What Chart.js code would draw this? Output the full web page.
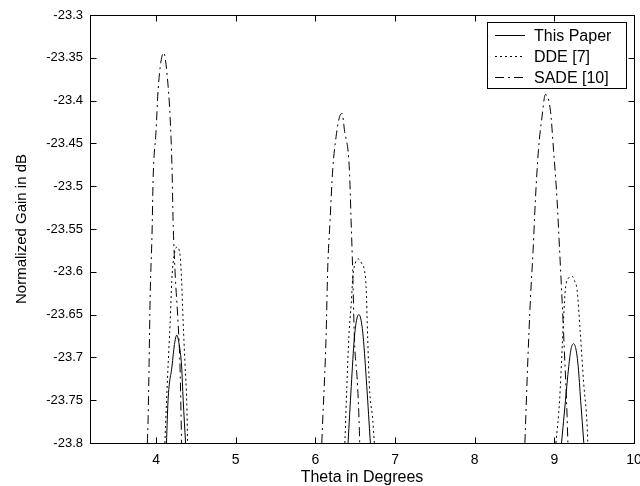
<!DOCTYPE html>
<html>
<head>
<meta charset="utf-8">
<script src="https://cdn.jsdelivr.net/npm/chart.js@4"></script>
<style>
  html, body { margin: 0; padding: 0; background: #fff; }
  #wrap { width: 640px; height: 486px; position: relative; }
</style>
</head>
<body>
<div id="wrap"><canvas id="gainChart"></canvas></div>
<script>
// Series names, as shown in the legend
const seriesNames = ['This Paper', 'DDE [7]', 'SADE [10]'];

// Axis ticks
const thetaTicks = [4, 5, 6, 7, 8, 9, 10];
const gainTicks = [-23.3, -23.35, -23.4, -23.45, -23.5, -23.55, -23.6, -23.65, -23.7, -23.75, -23.8];

// This Paper (null gain = below the plotted range)
const thisPaperTheta = [4.13, 4.15, 4.20, 4.23, 4.26, 4.29, 4.32, 4.34, 4.37, 5.3,
  6.41, 6.45, 6.49, 6.52, 6.545, 6.57, 6.60, 6.645, 6.69, 7.8,
  9.09, 9.14, 9.18, 9.21, 9.24, 9.27, 9.30, 9.33, 9.37];
const thisPaperGain = [-23.80, -23.75, -23.71, -23.685, -23.674, -23.685, -23.71, -23.75, -23.80, null,
  -23.80, -23.734, -23.676, -23.655, -23.650, -23.655, -23.676, -23.734, -23.80, null,
  -23.80, -23.75, -23.711, -23.69, -23.684, -23.69, -23.711, -23.75, -23.80];

// DDE [7]
const ddeTheta = [4.11, 4.125, 4.15, 4.176, 4.197, 4.213, 4.26, 4.30, 4.32, 4.34, 4.364, 4.385, 4.395, 5.3,
  6.37, 6.395, 6.42, 6.45, 6.47, 6.50, 6.54, 6.58, 6.615, 6.636, 6.656, 6.678, 6.72, 6.74, 7.8,
  9.02, 9.066, 9.097, 9.117, 9.138, 9.18, 9.222, 9.25, 9.285, 9.326, 9.368, 9.41, 9.42];
const ddeGain = [-23.80, -23.765, -23.71, -23.66, -23.61, -23.59, -23.571, -23.58, -23.61, -23.66, -23.71, -23.753, -23.80, null,
  -23.80, -23.734, -23.676, -23.637, -23.606, -23.59, -23.585, -23.59, -23.598, -23.617, -23.676, -23.734, -23.773, -23.80, null,
  -23.80, -23.75, -23.691, -23.652, -23.621, -23.607, -23.605, -23.61, -23.621, -23.672, -23.73, -23.777, -23.80];

// SADE [10]
const sadeTheta = [3.89, 3.90, 3.912, 3.925, 3.95, 3.962, 4.0, 4.025, 4.06, 4.095, 4.138, 4.176, 4.20, 4.213, 4.238, 4.276, 4.30, 4.32, 5.3,
  6.08, 6.092, 6.134, 6.154, 6.184, 6.217, 6.26, 6.30, 6.335, 6.364, 6.427, 6.448, 6.468, 6.489, 6.53, 6.552, 6.556, 7.8,
  8.63, 8.664, 8.699, 8.733, 8.762, 8.80, 8.845, 8.887, 8.95, 8.99, 9.034, 9.066, 9.097, 9.125, 9.16, 9.17];
const sadeGain = [-23.80, -23.77, -23.707, -23.63, -23.551, -23.493, -23.434, -23.388, -23.355, -23.344, -23.37, -23.42, -23.48, -23.54, -23.60, -23.66, -23.71, -23.80, null,
  -23.80, -23.773, -23.676, -23.598, -23.54, -23.481, -23.442, -23.42, -23.415, -23.434, -23.481, -23.54, -23.598, -23.676, -23.734, -23.785, -23.80, null,
  -23.80, -23.711, -23.633, -23.575, -23.516, -23.458, -23.419, -23.393, -23.411, -23.458, -23.516, -23.575, -23.633, -23.691, -23.769, -23.80];

const FONT = "'Liberation Sans', Arial, sans-serif";

function toPoints(xs, ys) {
  return xs.map((x, i) => ({ x: x, y: ys[i] }));
}

// Frame, inward tick marks and the boxed legend, MATLAB style
const matlabFrame = {
  id: 'matlabFrame',
  afterDraw(chart) {
    const ctx = chart.ctx;
    const area = chart.chartArea;
    const xs = chart.scales.x;
    const ys = chart.scales.y;
    const L = Math.round(area.left) + 0.5;
    const R = Math.round(area.right) + 0.5;
    const T = Math.round(area.top) + 0.5;
    const B = Math.round(area.bottom) + 0.5;
    const tick = 6;

    ctx.save();
    ctx.strokeStyle = '#000';
    ctx.lineWidth = 1;
    ctx.setLineDash([]);
    ctx.strokeRect(L, T, R - L, B - T);

    ctx.beginPath();
    xs.ticks.forEach(t => {
      const px = Math.round(xs.getPixelForValue(t.value)) + 0.5;
      ctx.moveTo(px, B); ctx.lineTo(px, B - tick);
      ctx.moveTo(px, T); ctx.lineTo(px, T + tick);
    });
    ys.ticks.forEach(t => {
      const py = Math.round(ys.getPixelForValue(t.value)) + 0.5;
      ctx.moveTo(L, py); ctx.lineTo(L + tick, py);
      ctx.moveTo(R, py); ctx.lineTo(R - tick, py);
    });
    ctx.stroke();

    // legend box
    const bx = 487.5, by = 22.5, bw = 139, bh = 66;
    ctx.fillStyle = '#fff';
    ctx.fillRect(bx, by, bw, bh);
    ctx.strokeRect(bx, by, bw, bh);
    ctx.font = '16px ' + FONT;
    ctx.textBaseline = 'middle';
    ctx.textAlign = 'left';
    chart.data.datasets.forEach((ds, i) => {
      const y = Math.round(by + 12 + i * 21) + 0.5;
      ctx.beginPath();
      ctx.setLineDash(ds.borderDash || []);
      ctx.moveTo(495, y);
      ctx.lineTo(525, y);
      ctx.stroke();
      ctx.setLineDash([]);
      ctx.fillStyle = '#000';
      ctx.fillText(ds.label, 534, y + 1);
    });
    ctx.restore();
  }
};

new Chart(document.getElementById('gainChart'), {
  type: 'line',
  data: {
    datasets: [
      { label: seriesNames[0], data: toPoints(thisPaperTheta, thisPaperGain), borderDash: [] },
      { label: seriesNames[1], data: toPoints(ddeTheta, ddeGain), borderDash: [2, 3] },
      { label: seriesNames[2], data: toPoints(sadeTheta, sadeGain), borderDash: [9, 4, 2, 4] }
    ].map(ds => Object.assign(ds, {
      borderColor: '#000',
      borderWidth: 1,
      pointRadius: 0,
      fill: false,
      spanGaps: false,
      cubicInterpolationMode: 'monotone'
    }))
  },
  options: {
    responsive: true,
    maintainAspectRatio: false,
    animation: false,
    layout: { padding: { top: 15, right: 6, left: 0, bottom: 0 } },
    plugins: {
      legend: { display: false },
      tooltip: { enabled: false }
    },
    scales: {
      x: {
        type: 'linear',
        min: 3.17,
        max: 10,
        grid: { display: false, drawTicks: false },
        border: { display: false },
        afterBuildTicks: scale => { scale.ticks = thetaTicks.map(v => ({ value: v })); },
        afterFit: scale => {
          scale.height = 43;
          scale.paddingLeft = 0;
          scale.paddingRight = 0;
        },
        ticks: {
          color: '#000',
          padding: 9,
          maxRotation: 0,
          autoSkip: false,
          font: { family: FONT, size: 14 },
          callback: v => String(v)
        },
        title: {
          display: true,
          text: 'Theta in Degrees',
          color: '#000',
          padding: { top: 0, bottom: 0 },
          font: { family: FONT, size: 16, lineHeight: 1 }
        }
      },
      y: {
        type: 'linear',
        min: -23.8,
        max: -23.3,
        grid: { display: false, drawTicks: false },
        border: { display: false },
        afterBuildTicks: scale => { scale.ticks = gainTicks.map(v => ({ value: v })); },
        afterFit: scale => {
          scale.width = 90;
          scale.paddingTop = 0;
          scale.paddingBottom = 0;
        },
        ticks: {
          color: '#000',
          padding: 7,
          autoSkip: false,
          font: { family: FONT, size: 13 },
          callback: v => String(v)
        },
        title: {
          display: true,
          text: 'Normalized Gain in dB',
          color: '#000',
          padding: { top: 14, bottom: 0 },
          font: { family: FONT, size: 15, lineHeight: 1 }
        }
      }
    }
  },
  plugins: [matlabFrame]
});
</script>
</body>
</html>
